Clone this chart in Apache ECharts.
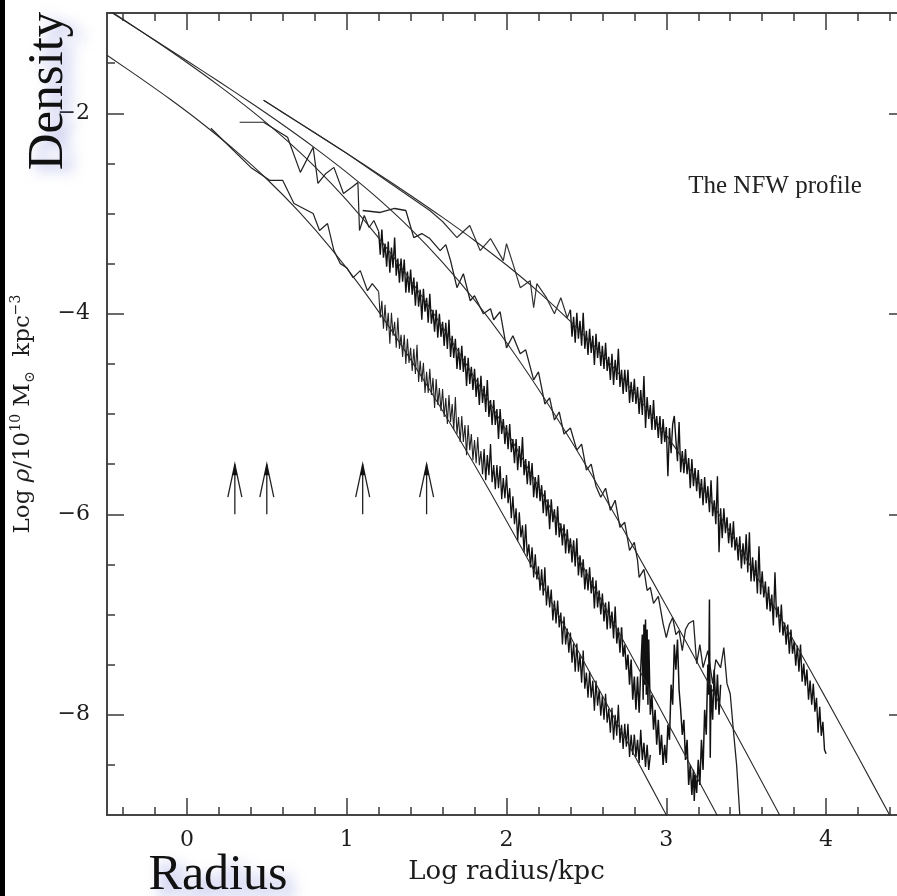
<!DOCTYPE html>
<html>
<head>
<meta charset="utf-8">
<script src="https://cdn.jsdelivr.net/npm/echarts@6/dist/echarts.min.js"></script>
<style>
  html, body { margin: 0; padding: 0; background: #fff; }
  #chart { width: 897px; height: 896px; }
</style>
</head>
<body>
<div id="chart"></div>
<script>
// ---- axis ticks ----
const xMajorTicks = [0, 1, 2, 3, 4];
const xMinorTicks = [-0.4, -0.2, 0.2, 0.4, 0.6, 0.8, 1.2, 1.4, 1.6, 1.8, 2.2, 2.4, 2.6, 2.8, 3.2, 3.4, 3.6, 3.8, 4.2, 4.4];
const yMajorTicks = [-8, -6, -4, -2];
const yMinorTicks = [-8.5, -7.5, -7, -6.5, -5.5, -5, -4.5, -3.5, -3, -2.5, -1.5];

// ---- NFW fits (log radius, log density) ----
const fit1X = [0.48, 0.6, 0.8, 1.0, 1.2, 1.4, 1.6, 1.8, 2.0, 2.2, 2.4, 2.6, 2.8, 3.0, 3.2, 3.4, 3.6, 3.8, 4.0, 4.2, 4.4];
const fit1Y = [-1.870, -1.992, -2.195, -2.400, -2.608, -2.820, -3.039, -3.269, -3.514, -3.781, -4.077, -4.411, -4.788, -5.211, -5.677, -6.181, -6.714, -7.269, -7.839, -8.420, -9.008];

const fit2X = [-0.6, -0.4, -0.2, 0.0, 0.2, 0.4, 0.6, 0.8, 1.0, 1.2, 1.4, 1.6, 1.8, 2.0, 2.2, 2.4, 2.6, 2.8, 3.0, 3.2, 3.4, 3.6, 3.8];
const fit2Y = [-0.866, -1.068, -1.271, -1.476, -1.684, -1.896, -2.115, -2.345, -2.590, -2.857, -3.153, -3.487, -3.864, -4.287, -4.753, -5.257, -5.790, -6.345, -6.915, -7.496, -8.084, -8.676, -9.271];

const fit3X = [-0.6, -0.4, -0.2, 0.0, 0.2, 0.4, 0.6, 0.8, 1.0, 1.2, 1.4, 1.6, 1.8, 2.0, 2.2, 2.4, 2.6, 2.8, 3.0, 3.2, 3.4];
const fit3Y = [-0.855, -1.063, -1.275, -1.494, -1.724, -1.969, -2.236, -2.532, -2.866, -3.243, -3.666, -4.132, -4.636, -5.169, -5.724, -6.294, -6.875, -7.463, -8.055, -8.650, -9.247];

const fit4X = [-0.5, -0.3, -0.1, 0.1, 0.3, 0.5, 0.7, 0.9, 1.1, 1.3, 1.5, 1.7, 1.9, 2.1, 2.3, 2.5, 2.7, 2.9, 3.1];
const fit4Y = [-1.422, -1.640, -1.866, -2.107, -2.368, -2.656, -2.980, -3.346, -3.757, -4.213, -4.708, -5.234, -5.784, -6.351, -6.930, -7.516, -8.107, -8.702, -9.298];

// ---- simulated halo profiles ----
// halo 1: sparse inner part, then radial bins of width 0.01 dex
const halo1Inner = [[0.48, -1.87], [1.00, -2.40], [1.52, -2.97], [1.60, -3.08], [1.69, -3.24], [1.77, -3.12], [1.835, -3.37], [1.90, -3.25], [1.98, -3.47], [2.00, -3.30], [2.04, -3.50], [2.086, -3.74], [2.148, -3.67], [2.17, -3.94], [2.19, -3.70], [2.25, -3.84], [2.30, -4.00], [2.34, -3.84], [2.38, -4.04], [2.40, -3.96]];
const halo1BinStart = 2.40, halo1BinWidth = 0.01;
const halo1Binned = [
  -3.96, -4.23, -4.03, -4.29, -3.99, -4.25, -4.07, -4.32, -3.99, -4.35,
  -4.17, -4.41, -4.15, -4.39, -4.22, -4.51, -4.20, -4.44, -4.28, -4.52,
  -4.32, -4.55, -4.29, -4.57, -4.43, -4.66, -4.40, -4.71, -4.46, -4.66,
  -4.35, -4.73, -4.56, -4.80, -4.56, -4.78, -4.56, -4.89, -4.68, -4.88,
  -4.65, -4.90, -4.73, -5.00, -4.76, -5.01, -4.62, -5.14, -4.83, -5.05,
  -4.91, -5.16, -4.86, -5.16, -5.02, -5.24, -5.02, -5.30, -5.05, -5.28,
  -5.13, -5.62, -5.14, -5.39, -5.10, -5.02, -5.26, -5.47, -5.08, -5.58,
  -5.37, -5.59, -5.35, -5.60, -5.44, -5.74, -5.45, -5.72, -5.54, -5.77,
  -5.56, -5.84, -5.65, -5.91, -5.63, -5.89, -5.72, -5.98, -5.66, -6.02,
  -5.86, -6.10, -5.62, -6.38, -5.94, -6.24, -5.94, -6.19, -6.03, -6.29,
  -6.09, -6.33, -6.07, -6.36, -6.23, -6.46, -6.22, -6.54, -6.29, -6.50,
  -6.20, -6.58, -6.18, -6.67, -6.43, -6.67, -6.46, -6.79, -6.32, -6.80,
  -6.57, -6.83, -6.67, -6.95, -6.72, -6.97, -6.80, -7.11, -6.58, -7.03,
  -6.92, -7.18, -6.90, -7.21, -7.08, -7.30, -7.10, -7.39, -7.15, -7.39,
  -7.27, -7.51, -7.31, -7.57, -7.30, -7.67, -7.49, -7.71, -7.55, -7.85,
  -7.66, -7.90, -7.69, -7.97, -7.83, -8.18, -7.92, -8.21, -8.07, -8.35,
  -8.39];

// halo 2
const halo2 = [[1.10, -2.97], [1.21, -2.99], [1.30, -2.95], [1.37, -2.97], [1.42, -3.24], [1.47, -3.20], [1.52, -3.25], [1.585, -3.37], [1.62, -3.31], [1.65, -3.47], [1.69, -3.74], [1.73, -3.60], [1.773, -3.87], [1.80, -3.82], [1.855, -4.00], [1.90, -3.95], [1.92, -4.06], [1.96, -3.98], [2.00, -4.34], [2.04, -4.22], [2.086, -4.40], [2.12, -4.36], [2.17, -4.66], [2.20, -4.58], [2.24, -4.90], [2.27, -4.84], [2.30, -5.06], [2.33, -4.98], [2.36, -5.20], [2.40, -5.14], [2.44, -5.36], [2.47, -5.30], [2.50, -5.56], [2.53, -5.50], [2.56, -5.72], [2.59, -5.83], [2.62, -5.74], [2.65, -5.96], [2.68, -5.86], [2.71, -6.13], [2.74, -6.08], [2.77, -6.36], [2.80, -6.28], [2.82, -6.46], [2.83, -6.63], [2.86, -6.55], [2.88, -6.76], [2.90, -6.73], [2.92, -6.89], [2.95, -6.82], [2.98, -7.09], [3.00, -7.23], [3.02, -7.10], [3.04, -7.03], [3.06, -7.20], [3.08, -7.16], [3.10, -7.36], [3.12, -7.15], [3.14, -7.09], [3.17, -7.06], [3.19, -7.49], [3.21, -7.30], [3.23, -7.53], [3.26, -7.36], [3.29, -7.69], [3.31, -7.45], [3.34, -7.53], [3.36, -7.33], [3.38, -7.69], [3.40, -7.79], [3.42, -8.16], [3.44, -8.50], [3.46, -9.00]];

// halo 3
const halo3Inner = [[0.33, -2.09], [0.48, -2.09], [0.63, -2.24], [0.71, -2.59], [0.79, -2.34], [0.82, -2.70], [0.87, -2.60], [0.92, -2.54], [0.98, -2.80], [1.03, -2.74], [1.07, -2.69], [1.08, -3.17], [1.11, -3.02], [1.14, -3.14], [1.17, -3.07], [1.20, -3.18]];
const halo3BinStart = 1.20, halo3BinWidth = 0.01;
const halo3Binned = [
  -3.18, -3.41, -3.16, -3.44, -3.30, -3.53, -3.28, -3.59, -3.34, -3.54,
  -3.24, -3.62, -3.45, -3.69, -3.45, -3.68, -3.46, -3.79, -3.58, -3.79,
  -3.56, -3.81, -3.64, -3.92, -3.68, -3.93, -3.76, -4.06, -3.75, -3.98,
  -3.84, -4.09, -3.80, -4.10, -3.96, -4.18, -3.96, -4.24, -4.00, -4.23,
  -4.08, -4.32, -4.09, -4.35, -4.06, -4.43, -4.22, -4.44, -4.25, -4.55,
  -4.34, -4.56, -4.32, -4.58, -4.42, -4.72, -4.44, -4.70, -4.53, -4.76,
  -4.55, -4.83, -4.64, -4.91, -4.62, -4.89, -4.72, -4.98, -4.66, -5.03,
  -4.86, -5.11, -4.86, -5.11, -4.95, -5.25, -4.95, -5.20, -5.05, -5.30,
  -5.11, -5.35, -5.10, -5.38, -5.25, -5.49, -5.25, -5.56, -5.32, -5.53,
  -5.23, -5.61, -5.45, -5.70, -5.47, -5.71, -5.49, -5.83, -5.63, -5.84,
  -5.61, -5.87, -5.71, -5.99, -5.76, -6.02, -5.85, -6.15, -5.85, -6.08,
  -5.95, -6.21, -5.92, -6.23, -6.09, -6.31, -6.10, -6.39, -6.15, -6.39,
  -6.24, -6.48, -6.26, -6.52, -6.24, -6.61, -6.41, -6.63, -6.45, -6.75,
  -6.55, -6.76, -6.53, -6.79, -6.63, -6.94, -6.66, -6.93, -6.76, -7.00,
  -6.79, -7.07, -6.88, -7.15, -6.87, -7.14, -6.97, -7.24, -6.92, -7.29,
  -7.13, -7.38, -7.13];
const halo3Outer = [[2.72, -7.13], [2.73, -7.42], [2.74, -7.30], [2.75, -7.55], [2.76, -7.40], [2.77, -7.70], [2.78, -7.45], [2.79, -7.85], [2.80, -7.62], [2.81, -7.95], [2.82, -7.62], [2.83, -7.98], [2.84, -7.55], [2.85, -7.20], [2.855, -7.85], [2.86, -7.10], [2.865, -7.70], [2.87, -7.05], [2.875, -7.80], [2.88, -7.15], [2.885, -7.90], [2.89, -7.25], [2.90, -8.00], [2.91, -7.80], [2.92, -8.15], [2.93, -7.95], [2.94, -8.30], [2.95, -8.05], [2.96, -8.40], [2.97, -8.20], [2.98, -8.50], [2.99, -8.30], [3.00, -8.48], [3.01, -8.10], [3.02, -8.25], [3.03, -7.70], [3.04, -7.90], [3.05, -7.30], [3.06, -7.55], [3.07, -7.25], [3.08, -7.75], [3.09, -7.95], [3.10, -8.20], [3.11, -8.05], [3.12, -8.45], [3.13, -8.25], [3.14, -8.70], [3.15, -8.50], [3.16, -8.80], [3.17, -8.55], [3.175, -8.86], [3.18, -8.60], [3.19, -8.78], [3.20, -8.45], [3.21, -8.70], [3.22, -8.25], [3.23, -8.55], [3.24, -7.95], [3.25, -8.20], [3.26, -7.50], [3.265, -7.80], [3.27, -6.85], [3.275, -8.43], [3.28, -7.70], [3.29, -8.05], [3.30, -7.55], [3.31, -7.95], [3.32, -7.60], [3.33, -8.00], [3.34, -7.70]];

// halo 4
const halo4Inner = [[0.15, -2.15], [0.40, -2.54], [0.52, -2.67], [0.60, -2.67], [0.67, -2.90], [0.79, -3.00], [0.83, -3.17], [0.88, -3.10], [0.92, -3.37], [0.96, -3.50], [1.00, -3.54], [1.04, -3.64], [1.085, -3.57], [1.13, -3.77], [1.16, -3.70], [1.20, -3.78]];
const halo4BinStart = 1.20, halo4BinWidth = 0.01;
const halo4Binned = [
  -3.78, -4.04, -3.87, -4.15, -3.91, -4.17, -3.99, -4.30, -3.99, -4.22,
  -4.08, -4.34, -4.04, -4.35, -4.21, -4.43, -4.21, -4.50, -4.25, -4.49,
  -4.34, -4.57, -4.35, -4.60, -4.31, -4.68, -4.47, -4.68, -4.49, -4.79,
  -4.58, -4.79, -4.55, -4.81, -4.64, -4.94, -4.65, -4.91, -4.74, -4.97,
  -4.75, -5.03, -4.84, -5.10, -4.81, -5.08, -4.90, -5.16, -4.83, -5.20,
  -5.03, -5.28, -5.02, -5.28, -5.11, -5.41, -5.11, -5.36, -5.20, -5.46,
  -5.26, -5.49, -5.23, -5.51, -5.37, -5.60, -5.35, -5.66, -5.41, -5.61,
  -5.30, -5.68, -5.51, -5.75, -5.51, -5.74, -5.52, -5.85, -5.64, -5.84,
  -5.61, -5.89, -5.74, -6.04, -5.82, -6.10, -5.94, -6.27, -5.98, -6.23,
  -6.11, -6.38, -6.10, -6.42, -6.30, -6.53, -6.33, -6.63, -6.40, -6.65,
  -6.52, -6.76, -6.55, -6.81, -6.53, -6.91, -6.71, -6.93, -6.75, -7.06,
  -6.86, -7.09, -6.86, -7.13, -6.98, -7.30, -7.02, -7.30, -7.14, -7.38,
  -7.18, -7.48, -7.29, -7.57, -7.29, -7.57, -7.40, -7.68, -7.36, -7.74,
  -7.58, -7.83, -7.57, -7.83, -7.66, -7.96, -7.66, -7.91, -7.75, -8.01,
  -7.81, -8.05, -7.79, -8.08, -7.94, -8.18, -7.93, -8.25, -8.00, -8.21,
  -7.90, -8.28, -8.10, -8.34, -8.09, -8.32, -8.09, -8.42, -8.20, -8.40,
  -8.20];
const halo4Outer = [[2.80, -8.20], [2.81, -8.42], [2.82, -8.25], [2.83, -8.48], [2.84, -8.15], [2.85, -8.45], [2.86, -8.28], [2.87, -8.52], [2.88, -8.30], [2.89, -8.55], [2.90, -8.40]];
// inner stretch of the halo 4 bins drawn with a finer pen (count of bins)
const halo4LightBins = 66;

// softening-length markers: log radius, arrow base and tip
const arrowX = [0.3, 0.5, 1.1, 1.5];
const arrowBase = -6.0;
const arrowTip = -5.5;

// ---- helpers ----
const SERIF = '"DejaVu Serif", "Liberation Serif", serif';
const INK = '#1c1c1c';
const FRAME = '#3a3a3a';

function pairs(xs, ys) { return xs.map((x, i) => [x, ys[i]]); }
function bins(start, width, ys) { return ys.map((y, i) => [Math.round((start + i * width) * 1000) / 1000, y]); }
function minus(v) { return v < 0 ? '\u2212' + Math.abs(v) : String(v); }

function xAxisDef(position, ticks, len, withLabels) {
  return {
    type: 'value', min: -0.5, max: 4.5, position: position,
    axisLine: { show: true, onZero: false, lineStyle: { color: FRAME, width: 1.5 } },
    axisTick: { show: true, inside: true, length: len, customValues: ticks, lineStyle: { color: FRAME, width: 1.5 } },
    axisLabel: withLabels ? { show: true, customValues: xMajorTicks, formatter: minus, fontFamily: SERIF, fontSize: 22, color: INK, margin: 14 } : { show: false },
    splitLine: { show: false },
    name: withLabels ? 'Log radius/kpc' : '',
    nameLocation: 'middle', nameGap: 44,
    nameTextStyle: { fontFamily: SERIF, fontSize: 26, color: INK }
  };
}
function yAxisDef(position, ticks, len, withLabels) {
  return {
    type: 'value', min: -9, max: -1, position: position,
    axisLine: { show: true, onZero: false, lineStyle: { color: FRAME, width: 1.5 } },
    axisTick: { show: true, inside: true, length: len, customValues: ticks, lineStyle: { color: FRAME, width: 1.5 } },
    axisLabel: withLabels ? { show: true, customValues: yMajorTicks, formatter: minus, fontFamily: SERIF, fontSize: 22, color: INK, margin: 17 } : { show: false },
    splitLine: { show: false },
    name: withLabels ? '{t|Log }{i|\u03c1}{t|/10}{sup|10}{t| M}{sub|\u2299}{t|  kpc}{sup|\u22123}' : '',
    nameLocation: 'middle', nameGap: 70, nameRotate: 90,
    nameTextStyle: {
      fontFamily: SERIF, fontSize: 23, color: INK,
      rich: {
        t: { fontFamily: SERIF, fontSize: 23, color: INK, lineHeight: 28 },
        i: { fontFamily: SERIF, fontSize: 23, fontStyle: 'italic', color: INK, lineHeight: 28 },
        sup: { fontFamily: SERIF, fontSize: 14, color: INK, verticalAlign: 'top', lineHeight: 28 },
        sub: { fontFamily: SERIF, fontSize: 14, color: INK, verticalAlign: 'bottom', lineHeight: 24 }
      }
    }
  };
}

function profileLine(data, width, color) {
  return {
    type: 'line', data: data, showSymbol: false, symbol: 'none', smooth: false, clip: true,
    lineStyle: { color: color || '#111', width: width }, silent: true, z: 3
  };
}
function fitLine(xs, ys) {
  return {
    type: 'line', data: pairs(xs, ys), showSymbol: false, symbol: 'none', smooth: 0.3, clip: true,
    lineStyle: { color: '#2a2a2a', width: 1.1 }, silent: true, z: 4
  };
}

const halo4BinPoints = bins(halo4BinStart, halo4BinWidth, halo4Binned);

const chart = echarts.init(document.getElementById('chart'), null, { renderer: 'canvas' });
chart.setOption({
  animation: false,
  backgroundColor: '#fff',
  grid: { left: 107, top: 13, right: -9, bottom: 81, containLabel: false, outerBoundsMode: 'none' },
  xAxis: [
    xAxisDef('bottom', xMajorTicks, 17, true),
    xAxisDef('bottom', xMinorTicks, 8, false),
    xAxisDef('top', xMajorTicks, 17, false),
    xAxisDef('top', xMinorTicks, 8, false)
  ],
  yAxis: [
    yAxisDef('left', yMajorTicks, 17, true),
    yAxisDef('left', yMinorTicks, 8, false),
    yAxisDef('right', yMajorTicks, 17, false),
    yAxisDef('right', yMinorTicks, 8, false)
  ],
  series: [
    fitLine(fit1X, fit1Y),
    fitLine(fit2X, fit2Y),
    fitLine(fit3X, fit3Y),
    fitLine(fit4X, fit4Y),
    profileLine(halo1Inner, 1.2, '#333'),
    profileLine(bins(halo1BinStart, halo1BinWidth, halo1Binned), 1.4),
    profileLine(halo2, 1.3, '#222'),
    profileLine(halo3Inner, 1.2, '#222'),
    profileLine(bins(halo3BinStart, halo3BinWidth, halo3Binned), 1.4),
    profileLine(halo3Outer, 1.5),
    profileLine(halo4Inner, 1.2, '#222'),
    profileLine(halo4BinPoints.slice(0, halo4LightBins), 1.1, '#222'),
    profileLine(halo4BinPoints.slice(halo4LightBins - 1), 1.3, '#111'),
    profileLine(halo4Outer, 1.4),
    {
      type: 'custom', silent: true, z: 5,
      data: arrowX.map(x => [x, arrowBase, arrowTip]),
      encode: { x: 0, y: [1, 2] },
      renderItem: function (params, api) {
        const base = api.coord([api.value(0), api.value(1)]);
        const tip = api.coord([api.value(0), api.value(2)]);
        const s = { stroke: '#222', lineWidth: 1.3, fill: null };
        return {
          type: 'group',
          children: [
            { type: 'line', shape: { x1: base[0], y1: base[1], x2: tip[0], y2: tip[1] }, style: s },
            { type: 'polyline', shape: { points: [[tip[0] - 7, tip[1] + 33], [tip[0], tip[1]], [tip[0] + 7, tip[1] + 33]] }, style: s },
            { type: 'polygon', shape: { points: [[tip[0] - 2.5, tip[1] + 11], [tip[0], tip[1]], [tip[0] + 2.5, tip[1] + 11]] }, style: { fill: '#111' } }
          ]
        };
      }
    }
  ],
  graphic: [
    { type: 'rect', z: 100, shape: { x: 0, y: 0, width: 5, height: 896 }, style: { fill: '#000' } },
    {
      type: 'text', z: 50, x: 775, y: 186,
      style: { text: 'The NFW profile', font: '25px "Liberation Serif"', fill: '#222', align: 'center', verticalAlign: 'middle', textAlign: 'center', textVerticalAlign: 'middle' }
    },
    {
      type: 'text', z: 60, x: 49, y: 91, rotation: Math.PI / 2,
      style: {
        text: 'Density', font: '51px "Liberation Serif"', fill: '#111',
        align: 'center', verticalAlign: 'middle', textAlign: 'center', textVerticalAlign: 'middle',
        textShadowColor: 'rgba(105,110,210,0.6)', textShadowBlur: 14, textShadowOffsetX: 9, textShadowOffsetY: 4
      }
    },
    {
      type: 'text', z: 60, x: 218, y: 876,
      style: {
        text: 'Radius', font: '50px "Liberation Serif"', fill: '#111',
        align: 'center', verticalAlign: 'middle', textAlign: 'center', textVerticalAlign: 'middle',
        textShadowColor: 'rgba(105,110,210,0.6)', textShadowBlur: 14, textShadowOffsetX: 8, textShadowOffsetY: 9
      }
    }
  ]
});
</script>
</body>
</html>
